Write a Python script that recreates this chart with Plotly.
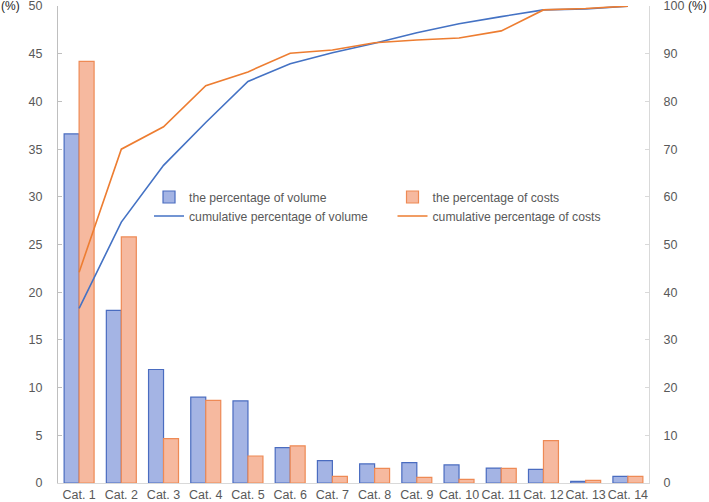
import plotly.graph_objects as go

categories = ["Cat. 1", "Cat. 2", "Cat. 3", "Cat. 4", "Cat. 5", "Cat. 6", "Cat. 7",
              "Cat. 8", "Cat. 9", "Cat. 10", "Cat. 11", "Cat. 12", "Cat. 13", "Cat. 14"]
pct_volume = [36.6, 18.1, 11.9, 9.0, 8.6, 3.7, 2.34, 2.0, 2.13, 1.89, 1.57, 1.43, 0.17, 0.7]
pct_costs = [44.2, 25.8, 4.65, 8.67, 2.83, 3.9, 0.7, 1.53, 0.6, 0.38, 1.53, 4.44, 0.28, 0.7]
cum_volume = [36.6, 54.7, 66.6, 75.6, 84.2, 87.9, 90.2, 92.2, 94.4, 96.3, 97.8, 99.2, 99.4, 100]
cum_costs = [44.2, 70.0, 74.7, 83.3, 86.2, 90.1, 90.8, 92.3, 92.9, 93.3, 94.8, 99.2, 99.5, 100]
left_ticks = [0, 5, 10, 15, 20, 25, 30, 35, 40, 45, 50]
right_ticks = [0, 10, 20, 30, 40, 50, 60, 70, 80, 90, 100]

FONT = "Liberation Sans, Arial, sans-serif"
GRAY = "#595959"

fig = go.Figure()
fig.add_trace(go.Bar(x=categories, y=pct_volume, name="the percentage of volume",
                     legend="legend",
                     marker=dict(color="#A4B4E4", line=dict(color="#4A6CC0", width=1.2))))
fig.add_trace(go.Bar(x=categories, y=pct_costs, name="the percentage of costs",
                     legend="legend2",
                     marker=dict(color="#F6B99F", line=dict(color="#EE8A55", width=1.2))))
fig.add_trace(go.Scatter(x=categories, y=cum_volume, name="cumulative percentage of volume",
                         legend="legend",
                         mode="lines", line=dict(color="#4472C4", width=1.6), yaxis="y2"))
fig.add_trace(go.Scatter(x=categories, y=cum_costs, name="cumulative percentage of costs",
                         legend="legend2",
                         mode="lines", line=dict(color="#ED7D31", width=1.6), yaxis="y2"))

legend_common = dict(orientation="v", yanchor="top", xanchor="left",
                     bgcolor="rgba(0,0,0,0)", font=dict(size=12.2, color=GRAY),
                     tracegroupgap=0, itemwidth=30, traceorder="normal")

fig.update_layout(
    width=709, height=502,
    margin=dict(l=58, r=60, t=6, b=19, autoexpand=False),
    paper_bgcolor="white", plot_bgcolor="white",
    font=dict(family=FONT, size=13, color=GRAY),
    barmode="group", bargap=0.29, bargroupgap=0,
    xaxis=dict(type="category", range=[-0.5, 13.5], showline=True, linecolor="#D9D9D9",
               linewidth=1, ticks="", showgrid=False, tickangle=0, automargin=False,
               ticklabeloverflow="allow", tickfont=dict(size=12.5, color=GRAY)),
    yaxis=dict(range=[0, 50.01], tickvals=left_ticks, showgrid=False, showline=True,
               linecolor="#BFBFBF", linewidth=1, ticks="inside", ticklen=4, tickcolor="#BFBFBF",
               zeroline=False, automargin=False, ticklabeloverflow="allow",
               ticklabelstandoff=12, tickfont=dict(size=12.5, color=GRAY)),
    yaxis2=dict(range=[0, 100.02], tickvals=right_ticks, overlaying="y", side="right",
                showgrid=False, showline=True, linecolor="#D9D9D9", linewidth=1,
                ticks="inside", ticklen=4, tickcolor="#D9D9D9", zeroline=False,
                automargin=False, ticklabeloverflow="allow", ticklabelstandoff=11,
                tickfont=dict(size=12.5, color=GRAY)),
    legend=dict(x=0.154, y=0.63, **legend_common),
    legend2=dict(x=0.566, y=0.63, **legend_common),
    showlegend=True,
)
fig.add_annotation(text="(%)", xref="paper", yref="paper", x=0, y=1, xshift=-58,
                   xanchor="left", yanchor="middle", showarrow=False, borderpad=0,
                   font=dict(size=12, color="#262626"))
fig.add_annotation(text="(%)", xref="paper", yref="paper", x=1, y=1, xshift=59,
                   xanchor="right", yanchor="middle", showarrow=False, borderpad=0,
                   font=dict(size=12, color="#262626"))

fig.write_html("out.html", config={"displayModeBar": False},
               post_script="document.body.style.margin='0px';")
